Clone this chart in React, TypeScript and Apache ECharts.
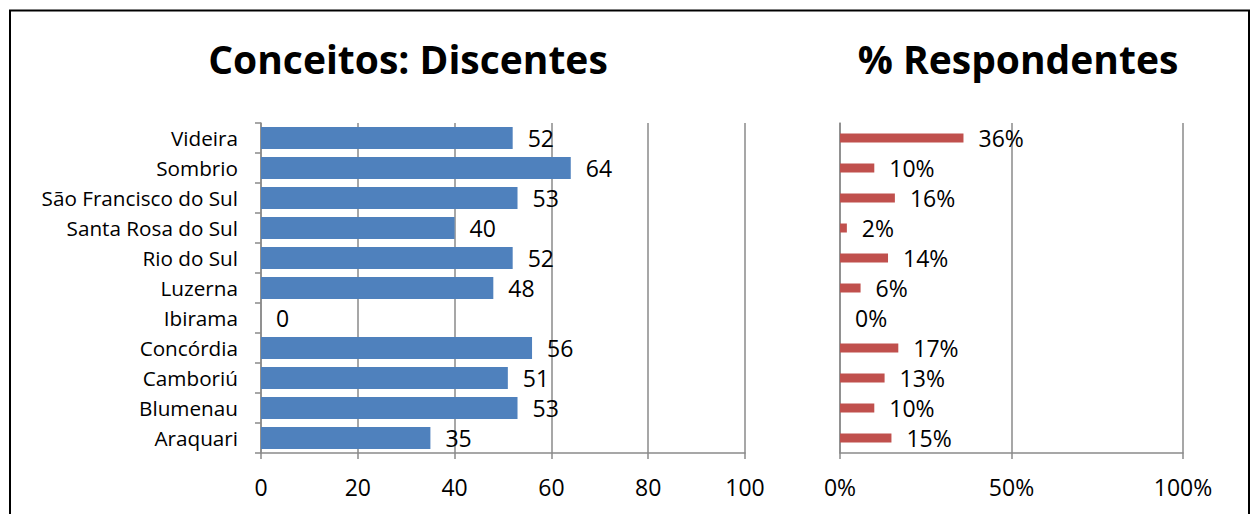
import React, { useEffect, useRef } from "react";
import * as echarts from "echarts";

const categories = [
  "Videira",
  "Sombrio",
  "São Francisco do Sul",
  "Santa Rosa do Sul",
  "Rio do Sul",
  "Luzerna",
  "Ibirama",
  "Concórdia",
  "Camboriú",
  "Blumenau",
  "Araquari",
];
const conceitos = [52, 64, 53, 40, 52, 48, 0, 56, 51, 53, 35];
const respondentes = [36, 10, 16, 2, 14, 6, 0, 17, 13, 10, 15];
const titleLeft = "Conceitos: Discentes";
const titleRight = "% Respondentes";

const FONT = '"Open Sans", sans-serif';
const GRID_COLOR = "#8a8a8a";

export default function App() {
  const ref = useRef<HTMLDivElement>(null);
  useEffect(() => {
    if (!ref.current) return;
    const chart = echarts.init(ref.current, null, { renderer: "svg" });
    const valueAxisCommon = {
      type: "value",
      axisLine: { show: true, lineStyle: { color: GRID_COLOR, width: 1.5 } },
      axisTick: { show: true, length: 6, lineStyle: { color: GRID_COLOR, width: 1.5 } },
      splitLine: { show: true, lineStyle: { color: GRID_COLOR, width: 1.5 } },
      axisLabel: { color: "#000", fontFamily: FONT, fontSize: 23, margin: 22 },
    };
    chart.setOption({
      animation: false,
      backgroundColor: "#fff",
      textStyle: { fontFamily: FONT },
      graphic: [
        {
          type: "rect",
          shape: { x: 10, y: 10.5, width: 1239, height: 600 },
          style: { fill: "none", stroke: "#000", lineWidth: 2 },
          silent: true,
        },
        {
          type: "text",
          x: 408,
          y: 58,
          style: {
            text: titleLeft,
            fontFamily: FONT,
            fontWeight: "bold",
            fontSize: 39,
            fill: "#000",
            textAlign: "center",
            textVerticalAlign: "middle",
          },
        },
        {
          type: "text",
          x: 1018,
          y: 58,
          style: {
            text: titleRight,
            fontFamily: FONT,
            fontWeight: "bold",
            fontSize: 39,
            fill: "#000",
            textAlign: "center",
            textVerticalAlign: "middle",
          },
        },
      ],
      grid: [
        { left: 261, right: 505, top: 123, bottom: 61 },
        { left: 840, right: 67, top: 123, bottom: 61 },
      ],
      xAxis: [
        { ...valueAxisCommon, gridIndex: 0, min: 0, max: 100, interval: 20 },
        {
          ...valueAxisCommon,
          gridIndex: 1,
          min: 0,
          max: 100,
          interval: 50,
          axisLabel: { ...valueAxisCommon.axisLabel, formatter: "{value}%" },
        },
      ],
      yAxis: [
        {
          type: "category",
          gridIndex: 0,
          data: categories,
          inverse: true,
          axisLine: { show: true, lineStyle: { color: GRID_COLOR, width: 1.5 } },
          axisTick: { show: true, length: 6, lineStyle: { color: GRID_COLOR, width: 1.5 } },
          axisLabel: { color: "#000", fontFamily: FONT, fontSize: 20.7, margin: 23 },
          splitLine: { show: false },
        },
        {
          type: "category",
          gridIndex: 1,
          data: categories,
          inverse: true,
          axisLine: { show: true, lineStyle: { color: GRID_COLOR, width: 1.5 } },
          axisTick: { show: false },
          axisLabel: { show: false },
          splitLine: { show: false },
        },
      ],
      series: [
        {
          type: "bar",
          xAxisIndex: 0,
          yAxisIndex: 0,
          data: conceitos,
          barWidth: 22,
          itemStyle: { color: "#4F81BD" },
          label: {
            show: true,
            position: "right",
            distance: 15,
            color: "#000",
            fontFamily: FONT,
            fontSize: 23,
          },
        },
        {
          type: "bar",
          xAxisIndex: 1,
          yAxisIndex: 1,
          data: respondentes,
          barWidth: 9,
          itemStyle: { color: "#C0504D" },
          label: {
            show: true,
            position: "right",
            distance: 15,
            color: "#000",
            fontFamily: FONT,
            fontSize: 23,
            formatter: "{c}%",
          },
        },
      ],
    });
    return () => chart.dispose();
  }, []);
  return (
    <div
      ref={ref}
      style={{ position: "absolute", left: 0, top: 0, width: 1250, height: 514 }}
    />
  );
}
